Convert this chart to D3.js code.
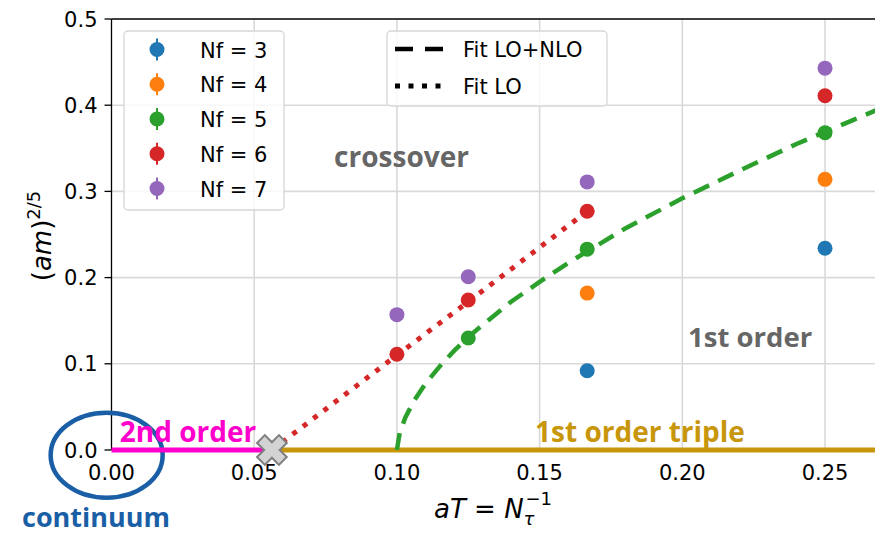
<!DOCTYPE html>
<html><head><meta charset="utf-8">
<script src="https://cdn.jsdelivr.net/npm/d3@7"></script>
<style>body{margin:0;background:#fff;overflow:hidden} svg{display:block}</style>
</head><body><svg id="c" width="875" height="534"></svg>
<script>
// ---------- data ----------
const aT = [0.1, 0.125, 1/6, 0.25];
const nf3 = [null, null, 0.092, 0.234];
const nf4 = [null, null, 0.182, 0.314];
const nf5 = [null, 0.130, 0.233, 0.368];
const nf6 = [0.111, 0.174, 0.277, 0.411];
const nf7 = [0.157, 0.201, 0.311, 0.443];
const seriesNames = ["Nf = 3", "Nf = 4", "Nf = 5", "Nf = 6", "Nf = 7"];
const seriesColors = ["#1f77b4", "#ff7f0e", "#2ca02c", "#d62728", "#9467bd"];

const fitNLOx = [0.100, 0.101, 0.103, 0.106, 0.110, 0.115, 0.120, 0.125, 0.130, 0.140, 0.150, 0.160, 0.170, 0.180, 0.200, 0.220, 0.240, 0.250, 0.260, 0.270];
const fitNLOy = [0.000, 0.020, 0.038, 0.057, 0.077, 0.097, 0.115, 0.131, 0.145, 0.172, 0.195, 0.217, 0.237, 0.257, 0.292, 0.324, 0.355, 0.369, 0.383, 0.397];
const fitLOx = [0.0562, 0.100, 0.125, 1/6];
const fitLOy = [0.000, 0.110, 0.172, 0.277];
const criticalPoint = {x: 0.0562, y: 0};

const xTicks = [0, 0.05, 0.10, 0.15, 0.20, 0.25];
const xTickLabels = ["0.00", "0.05", "0.10", "0.15", "0.20", "0.25"];
const yTicks = [0, 0.1, 0.2, 0.3, 0.4, 0.5];
const yTickLabels = ["0.0", "0.1", "0.2", "0.3", "0.4", "0.5"];
const fitNames = ["Fit LO+NLO", "Fit LO"];

// ---------- layout ----------
const svg = d3.select("#c");
const x = d3.scaleLinear().domain([0, 0.27]).range([111.5, 882.1]);
const y = d3.scaleLinear().domain([0, 0.5]).range([450, 19]);
const FONT = "DejaVu Sans, sans-serif";
const ANN = "'Open Sans', sans-serif";

// grid
const grid = svg.append("g");
grid.selectAll("line.gx").data(xTicks.slice(1)).join("line")
  .attr("x1", d => x(d)).attr("x2", d => x(d)).attr("y1", y(0)).attr("y2", y(0.5))
  .attr("stroke", "#d9d9d9").attr("stroke-width", 1.6);
grid.selectAll("line.gy").data(yTicks.slice(1, -1)).join("line")
  .attr("x1", x(0)).attr("x2", 875).attr("y1", d => y(d)).attr("y2", d => y(d))
  .attr("stroke", "#d9d9d9").attr("stroke-width", 1.6);

// spines
svg.append("line").attr("x1", x(0)).attr("x2", 875).attr("y1", y(0.5)).attr("y2", y(0.5))
  .attr("stroke", "#000").attr("stroke-width", 1.3);
svg.append("line").attr("x1", x(0)).attr("x2", x(0)).attr("y1", y(0.5)).attr("y2", y(0))
  .attr("stroke", "#000").attr("stroke-width", 1.3);

// y ticks
const yt = svg.append("g");
yt.selectAll("line").data(yTicks).join("line")
  .attr("x1", x(0) - 7).attr("x2", x(0)).attr("y1", d => y(d)).attr("y2", d => y(d))
  .attr("stroke", "#000").attr("stroke-width", 1.3);
yt.selectAll("text").data(yTicks).join("text")
  .attr("x", x(0) - 14).attr("y", d => y(d) + 7.5)
  .attr("text-anchor", "end").attr("font-family", FONT).attr("font-size", 21)
  .text((d, i) => yTickLabels[i]);
// x tick labels
const xt = svg.append("g");
xt.selectAll("text").data(xTicks).join("text")
  .attr("x", d => x(d)).attr("y", 480)
  .attr("text-anchor", "middle").attr("font-family", FONT).attr("font-size", 21)
  .text((d, i) => xTickLabels[i]);

// continuum ellipse
svg.append("ellipse").attr("cx", x(-0.0017)).attr("cy", y(-0.006))
  .attr("rx", 56).attr("ry", 42.5).attr("fill", "none")
  .attr("stroke", "#1a5fa6").attr("stroke-width", 4.5);

// phase lines along y=0
svg.append("line").attr("x1", x(0)).attr("x2", x(criticalPoint.x)).attr("y1", y(0)).attr("y2", y(0))
  .attr("stroke", "#ff00cc").attr("stroke-width", 5);
svg.append("line").attr("x1", x(criticalPoint.x)).attr("x2", x(0.27)).attr("y1", y(0)).attr("y2", y(0))
  .attr("stroke", "#c8960a").attr("stroke-width", 5);

// fits
const line = d3.line().x(d => x(d[0])).y(d => y(d[1]));
svg.append("path").attr("d", line(fitNLOx.map((v, i) => [v, fitNLOy[i]])))
  .attr("fill", "none").attr("stroke", "#2ca02c").attr("stroke-width", 4.5)
  .attr("stroke-dasharray", "17,10");
svg.append("path").attr("d", line(fitLOx.map((v, i) => [v, fitLOy[i]])))
  .attr("fill", "none").attr("stroke", "#d62728").attr("stroke-width", 5)
  .attr("stroke-dasharray", "5,8");

// points
const allSeries = [nf3, nf4, nf5, nf6, nf7];
allSeries.forEach((s, k) => {
  const pts = s.map((v, i) => [aT[i], v]).filter(d => d[1] !== null);
  svg.append("g").selectAll("circle").data(pts).join("circle")
    .attr("cx", d => x(d[0])).attr("cy", d => y(d[1])).attr("r", 7.5)
    .attr("fill", seriesColors[k]);
});

// critical X marker
(function () {
  const a = 15.5, b = 5.5;
  const base = [[b, -a], [b, -b], [a, -b], [a, b], [b, b], [b, a], [-b, a], [-b, b], [-a, b], [-a, -b], [-b, -b], [-b, -a]];
  const c = Math.SQRT1_2;
  const pts = base.map(([px, py]) => [(px - py) * c, (px + py) * c]);
  svg.append("path")
    .attr("transform", `translate(${x(criticalPoint.x)},${y(criticalPoint.y)})`)
    .attr("d", "M" + pts.map(p => p.join(",")).join("L") + "Z")
    .attr("fill", "#d3d3d3").attr("stroke", "#7f7f7f").attr("stroke-width", 2);
})();

// annotations
function ann(txt, dx, dy, color, size) {
  svg.append("text").attr("x", x(dx)).attr("y", y(dy))
    .attr("font-family", ANN).attr("font-weight", 700).attr("font-size", size)
    .attr("fill", color).text(txt);
}
ann("2nd order", 0.0029, 0.0093, "#ff00cc", 28);
ann("1st order triple", 0.1484, 0.0093, "#c8960a", 28);
ann("crossover", 0.078, 0.328, "#666666", 28);
ann("1st order", 0.202, 0.119, "#666666", 27.5);
svg.append("text").attr("x", 22).attr("y", 527)
  .attr("font-family", ANN).attr("font-weight", 700).attr("font-size", 27)
  .attr("fill", "#1a5fa6").text("continuum");

// axis labels
const yl = svg.append("text").attr("transform", "translate(51,236) rotate(-90)")
  .attr("text-anchor", "middle").attr("font-family", FONT).attr("font-size", 26);
yl.append("tspan").text("(");
yl.append("tspan").attr("font-style", "italic").text("am");
yl.append("tspan").text(")");
yl.append("tspan").attr("font-size", 18).attr("dy", -11).text("2/5");

const xl = svg.append("text").attr("x", 434).attr("y", 518)
  .attr("font-family", FONT).attr("font-size", 26);
xl.append("tspan").attr("font-style", "italic").text("aT");
xl.append("tspan").text(" = ");
xl.append("tspan").attr("font-style", "italic").text("N");
xl.append("tspan").attr("font-style", "italic").attr("font-size", 18).attr("dy", 7).text("τ");
xl.append("tspan").attr("font-size", 18).attr("dx", -9).attr("dy", -20).text("−1");

// legend 1
const lg1 = svg.append("g");
lg1.append("rect").attr("x", 124).attr("y", 31).attr("width", 160).attr("height", 179)
  .attr("rx", 4).attr("fill", "rgba(255,255,255,0.8)").attr("stroke", "#d6d6d6").attr("stroke-width", 1.3);
seriesNames.forEach((nm, i) => {
  const cy = 49.5 + i * 34.75;
  lg1.append("line").attr("x1", 157).attr("x2", 157).attr("y1", cy - 11).attr("y2", cy + 11)
    .attr("stroke", seriesColors[i]).attr("stroke-width", 2);
  lg1.append("circle").attr("cx", 157).attr("cy", cy).attr("r", 7.5).attr("fill", seriesColors[i]);
  lg1.append("text").attr("x", 200).attr("y", cy + 8).attr("font-family", FONT)
    .attr("font-size", 21).text(nm);
});

// legend 2
const lg2 = svg.append("g");
lg2.append("rect").attr("x", 387).attr("y", 31).attr("width", 220).attr("height", 75)
  .attr("rx", 4).attr("fill", "rgba(255,255,255,0.8)").attr("stroke", "#d6d6d6").attr("stroke-width", 1.3);
lg2.append("line").attr("x1", 395).attr("x2", 443).attr("y1", 49).attr("y2", 49)
  .attr("stroke", "#000").attr("stroke-width", 4.5).attr("stroke-dasharray", "18,12");
lg2.append("line").attr("x1", 395).attr("x2", 443).attr("y1", 86).attr("y2", 86)
  .attr("stroke", "#000").attr("stroke-width", 5).attr("stroke-dasharray", "5,8.5");
fitNames.forEach((nm, i) => {
  lg2.append("text").attr("x", 463).attr("y", 57 + i * 36.5).attr("font-family", FONT)
    .attr("font-size", 21).text(nm);
});
</script></body></html>
